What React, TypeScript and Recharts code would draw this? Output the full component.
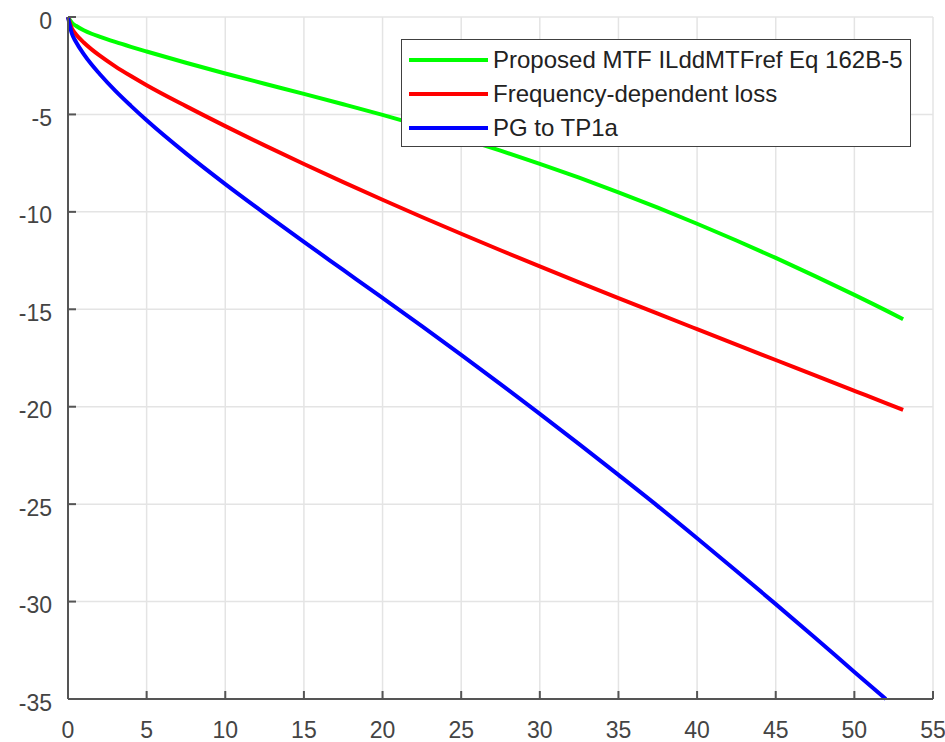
import { LineChart, Line, XAxis, YAxis, CartesianGrid, Legend } from 'recharts'

// frequency (GHz) sample points
const FREQ = [0, 0.25, 0.5, 1, 1.5, 2, 3, 4, 5, 7.5, 10, 12.5, 15, 17.5, 20, 22.5, 25, 27.5, 30, 32.5, 35, 37.5, 40, 42.5, 45, 47.5, 50, 52, 53.1]

// insertion loss (dB)
const MTF_REF = [0, -0.3, -0.45, -0.68, -0.86, -1.01, -1.28, -1.53, -1.77, -2.35, -2.9, -3.425, -3.945, -4.475, -5.02, -5.6, -6.215, -6.86, -7.535, -8.245, -8.995, -9.785, -10.61, -11.47, -12.365, -13.295, -14.26, -15.056, -15.51]
const FD_LOSS = [0, -0.6, -0.88, -1.31, -1.66, -1.97, -2.53, -3.03, -3.5, -4.575, -5.6, -6.588, -7.545, -8.475, -9.38, -10.263, -11.125, -11.97, -12.8, -13.618, -14.425, -15.225, -16.02, -16.813, -17.603, -18.393, -19.183, -19.815, -20.16]
const PG_TP1A = [0, -0.86, -1.27, -1.9, -2.44, -2.91, -3.78, -4.56, -5.3, -7.0, -8.575, -10.075, -11.54, -12.98, -14.42, -15.87, -17.34, -18.84, -20.37, -21.92, -23.5, -25.1, -26.75, -28.43, -30.13, -31.86, -33.61, -35]

const X_TICKS = [0, 5, 10, 15, 20, 25, 30, 35, 40, 45, 50, 55]
const Y_TICKS = [0, -5, -10, -15, -20, -25, -30, -35]

const SERIES = [
  { key: 'mtf', name: 'Proposed MTF ILddMTFref Eq 162B-5', color: '#00ff00' },
  { key: 'fdl', name: 'Frequency-dependent loss', color: '#ff0000' },
  { key: 'pg', name: 'PG to TP1a', color: '#0000ff' },
]

const rows = FREQ.map((f, i) => ({
  f,
  mtf: MTF_REF[i],
  fdl: FD_LOSS[i],
  pg: PG_TP1A[i] ?? null,
}))

const FONT = '"Liberation Sans", Arial, sans-serif'
const AXIS = '#555555'
const LABEL = '#444444'

function XTick({ x, y, payload }: any) {
  return (
    <text x={x} y={y + 17} textAnchor="middle" fontSize={23} fontFamily={FONT} fill={LABEL}>
      {payload.value}
    </text>
  )
}

function YTick({ x, y, payload }: any) {
  return (
    <text x={x} y={y + 11.5} textAnchor="end" fontSize={23} fontFamily={FONT} fill={LABEL}>
      {payload.value}
    </text>
  )
}

function LegendBox() {
  return (
    <div
      style={{
        boxSizing: 'border-box',
        width: 510,
        height: 108,
        border: '1.5px solid #404040',
        background: '#fff',
        paddingTop: 3,
        fontFamily: FONT,
      }}
    >
      {SERIES.map((s) => (
        <div key={s.key} style={{ display: 'flex', alignItems: 'center', height: 34 }}>
          <span style={{ display: 'inline-block', width: 79, height: 4, marginLeft: 7, background: s.color }} />
          <span style={{ marginLeft: 5, fontSize: 24, color: '#222', whiteSpace: 'nowrap' }}>{s.name}</span>
        </div>
      ))}
    </div>
  )
}

export default function App() {
  return (
    <div style={{ position: 'absolute', left: 0, top: 0, width: 945, height: 742, background: '#fff' }}>
      <LineChart width={945} height={742} data={rows} margin={{ top: 17, right: 12, bottom: 0, left: 0 }}>
        <CartesianGrid stroke="#e4e4e4" strokeWidth={1.5} />
        <XAxis
          dataKey="f"
          type="number"
          domain={[0, 55]}
          ticks={X_TICKS}
          interval={0}
          height={43}
          stroke={AXIS}
          axisLine={{ stroke: AXIS, strokeWidth: 2 }}
          tickLine={{ stroke: AXIS, strokeWidth: 2 }}
          tickSize={-8}
          tickMargin={30}
          tick={<XTick />}
        />
        <YAxis
          type="number"
          domain={[-35, 0]}
          ticks={Y_TICKS}
          interval={0}
          width={68}
          stroke={AXIS}
          axisLine={{ stroke: AXIS, strokeWidth: 2 }}
          tickLine={{ stroke: AXIS, strokeWidth: 2 }}
          tickSize={-8}
          tickMargin={24}
          tick={<YTick />}
        />
        {SERIES.map((s) => (
          <Line
            key={s.key}
            dataKey={s.key}
            name={s.name}
            type="monotone"
            stroke={s.color}
            strokeWidth={4}
            dot={false}
            activeDot={false}
            isAnimationActive={false}
          />
        ))}
        <Legend
          layout="vertical"
          align="center"
          verticalAlign="middle"
          content={<LegendBox />}
          wrapperStyle={{ left: 401, top: 39, width: 510, height: 108 }}
        />
      </LineChart>
    </div>
  )
}
